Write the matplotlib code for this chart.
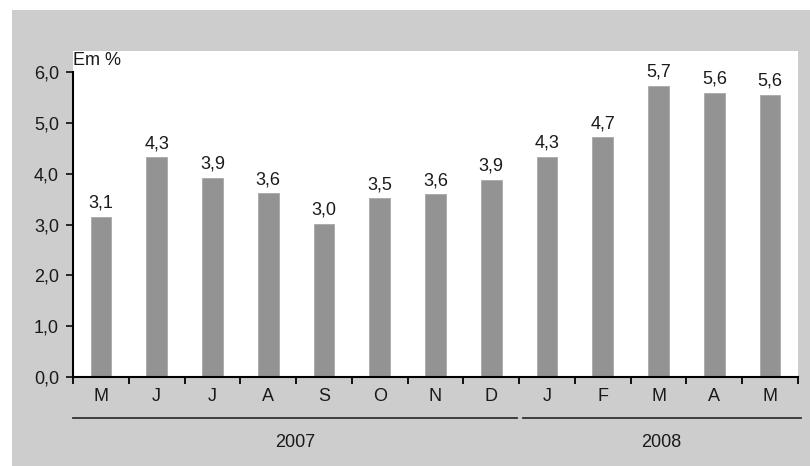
import matplotlib.pyplot as plt
import matplotlib.transforms as mtransforms
from matplotlib.patches import Rectangle

plt.rcParams['font.family'] = ['Liberation Sans', 'DejaVu Sans']

months = ['M', 'J', 'J', 'A', 'S', 'O', 'N', 'D', 'J', 'F', 'M', 'A', 'M']
values = [3.15, 4.33, 3.92, 3.62, 3.02, 3.52, 3.60, 3.88, 4.34, 4.72, 5.73, 5.60, 5.56]
years = ['2007', '2008']
year_spans = [(-0.5, 7.47), (7.56, 12.55)]
yticks = [0, 1, 2, 3, 4, 5, 6]

bg = '#cdcdcd'
bar_color = '#939393'
txt = '#1a1a1a'
fs = 13

fig = plt.figure(figsize=(8.1, 4.66), dpi=100)
fig.patch.set_facecolor('white')
fig.patches.append(Rectangle((12 / 810, 0), 1, 1 - 10 / 466,
                             transform=fig.transFigure, facecolor=bg,
                             edgecolor='none', zorder=-10))

ax = fig.add_axes([73 / 810, 1 - 377 / 466, (798 - 73) / 810, (377 - 51) / 466])
ax.set_facecolor('white')

x = list(range(len(months)))
ax.bar(x, values, width=0.37, color=bar_color, edgecolor='#a8a8a8', linewidth=0.6)
for xi, v in zip(x, values):
    ax.text(xi, v + 0.1, f'{v:.1f}'.replace('.', ','), ha='center', va='bottom',
            fontsize=fs, color=txt)

ax.set_xlim(-0.5, len(months) - 0.5)
ax.set_ylim(0, 6.42)

ax.set_yticks(yticks)
ax.set_yticklabels([f'{t:.1f}'.replace('.', ',') for t in yticks])
ax.set_xticks([i - 0.5 for i in range(len(months) + 1)])
ax.set_xticklabels([])
ax.set_xticks(x, minor=True)
ax.set_xticklabels(months, minor=True)
ax.tick_params(axis='x', which='minor', length=0, pad=8, labelsize=fs, colors=txt)
ax.tick_params(axis='x', which='major', length=5, width=1.3, direction='out')
ax.tick_params(axis='y', length=5, width=1.3, direction='out', labelsize=fs,
               colors=txt, pad=5)

for s in ['top', 'right']:
    ax.spines[s].set_visible(False)
ax.spines['left'].set_bounds(0, 6)
ax.spines['left'].set_linewidth(1.5)
ax.spines['bottom'].set_linewidth(1.5)

ax.text(0, 0.972, 'Em %', transform=ax.transAxes, ha='left', va='center',
        fontsize=fs, color=txt)

trans = mtransforms.blended_transform_factory(ax.transData, ax.transAxes)
for label, (x0, x1) in zip(years, year_spans):
    ax.plot([x0, x1], [-0.126, -0.126], color='#333333', linewidth=1.3,
            transform=trans, clip_on=False)
    ax.text((x0 + x1) / 2, -0.2, label, transform=trans, ha='center', va='center',
            fontsize=fs, color=txt)

fig.savefig('out.png', dpi=100, facecolor=fig.get_facecolor())
